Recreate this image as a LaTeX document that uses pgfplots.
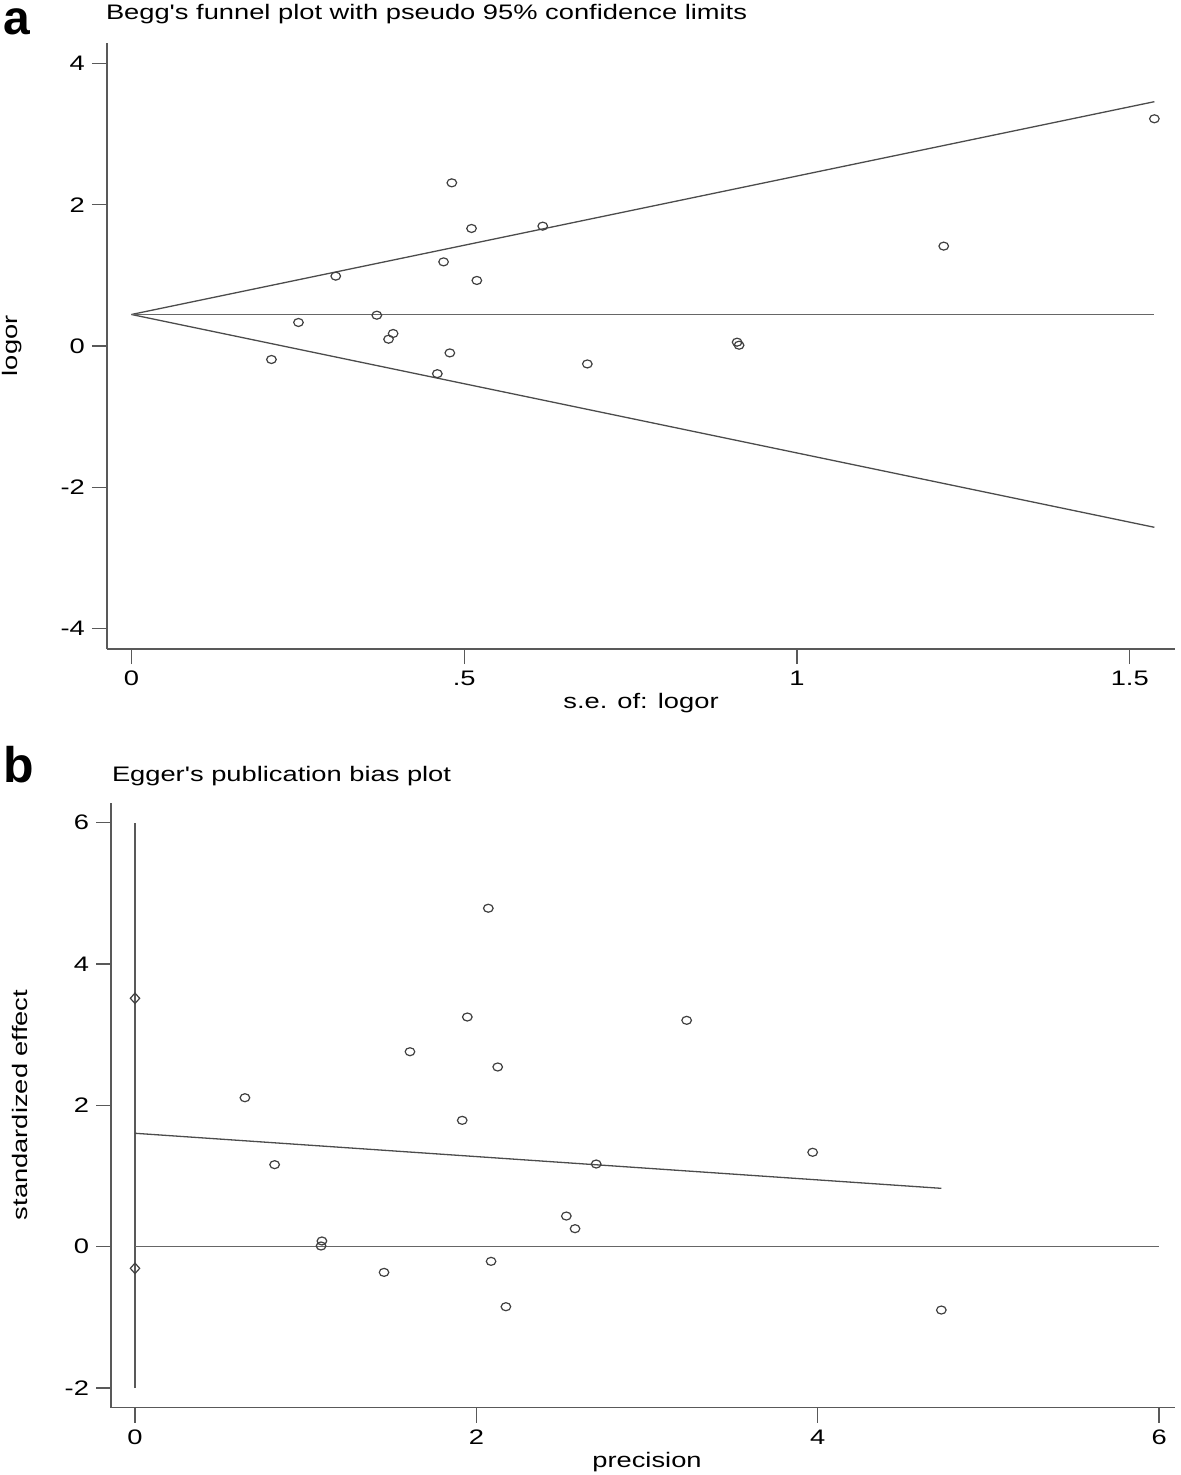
\documentclass[border=0pt]{standalone}
\usepackage{pgfplots}
\pgfplotsset{compat=1.18}
\usepackage{fontspec}
\setmainfont{Liberation Sans}
\pgfplotstableread{
x y
0.2104 -0.191
0.251 0.333
0.307 0.989
0.3687 0.436
0.3863 0.096
0.3932 0.177
0.4596 -0.392
0.469 1.191
0.4784 -0.098
0.4814 2.310
0.511 1.664
0.519 0.928
0.618 1.697
0.685 -0.254
0.910 0.054
0.913 0.011
1.2205 1.414
1.537 3.217
}\beggdata
\pgfplotstableread{
x y
1.611 2.759
0.644 2.108
0.818 1.161
1.095 0.081
1.090 0.010
1.459 -0.363
2.070 4.789
1.947 3.250
3.232 3.203
2.125 2.543
1.917 1.788
2.702 1.170
2.527 0.434
2.578 0.255
2.086 -0.207
2.173 -0.849
3.970 1.336
4.724 -0.896
}\eggerdata
\newcommand{\wide}[1]{\scalebox{1.3}[1]{#1}}
\begin{document}
\begin{tikzpicture}
\useasboundingbox (0pt,0pt) rectangle (590.5pt,-737.5pt);
\pgfplotsset{
 mystyle/.style={
  scale only axis,
  axis lines=left,
  axis line style={-, draw=black!65, line width=0.65pt},
  every tick/.style={draw=black!65, line width=0.65pt},
  tick align=outside,
  major tick length=7.5pt,
  tick label style={font=\fontsize{10.5}{12}\selectfont, text=black},
  clip=false,
 }
}
\begin{axis}[mystyle, at={(53.5pt,-324.5pt)}, anchor=south west,
  width=534pt, height=303pt,
  xmin=-0.0367, xmax=1.568, ymin=-4.29, ymax=4.29,
  xtick={0,0.5,1,1.5}, xticklabels={\wide{0},\wide{.5},\wide{1},\wide{1.5}},
  ytick={-4,-2,0,2,4}, yticklabels={\wide{-4},\wide{-2},\wide{0},\wide{2},\wide{4}}]
\addplot[draw=black!70, line width=0.65pt] coordinates {(0,0.446) (1.537,3.459)};
\addplot[draw=black!70, line width=0.65pt] coordinates {(0,0.446) (1.537,-2.567)};
\addplot[draw=black!60, line width=0.75pt] coordinates {(0,0.446) (1.537,0.446)};
\addplot[only marks, mark=o, mark size=2.0pt, draw=black!75, mark options={solid, xscale=1.2, line width=0.6pt}] table[x=x,y=y] {\beggdata};
\end{axis}
\begin{axis}[mystyle, at={(55.5pt,-703.85pt)}, anchor=south west,
  width=532pt, height=302.35pt,
  xmin=-0.1406, xmax=6.093, ymin=-2.278, ymax=6.278,
  xtick={0,2,4,6}, xticklabels={\wide{0},\wide{2},\wide{4},\wide{6}},
  ytick={-2,0,2,4,6}, yticklabels={\wide{-2},\wide{0},\wide{2},\wide{4},\wide{6}}]
\addplot[draw=black!65, line width=0.65pt] coordinates {(0,-2) (0,6)};
\addplot[draw=black!60, line width=0.75pt] coordinates {(0,0) (6,0)};
\addplot[draw=black!70, line width=0.65pt] coordinates {(0,1.605) (4.724,0.826)};
\addplot[only marks, mark=diamond, mark size=2.6pt, draw=black!75, fill=white, mark options={solid, xscale=1.2, line width=0.6pt}] coordinates {(0,3.515) (0,-0.306)};
\addplot[only marks, mark=o, mark size=2.0pt, draw=black!75, mark options={solid, xscale=1.2, line width=0.6pt}] table[x=x,y=y] {\eggerdata};
\end{axis}
\node[anchor=base west, inner sep=0pt, font=\fontsize{24}{24}\selectfont\bfseries] at (1.5pt,-17.5pt) {a};
\node[anchor=base west, inner sep=0pt, font=\fontsize{25}{25}\selectfont\bfseries] at (1.5pt,-391pt) {b};
\node[anchor=base west, inner sep=0pt, font=\fontsize{10.5}{12}\selectfont] at (52.8pt,-10pt) {\wide{Begg\textquotesingle s funnel plot with pseudo 95\% confidence limits}};
\node[anchor=base west, inner sep=0pt, font=\fontsize{10.5}{12}\selectfont] at (55.8pt,-390.8pt) {\wide{Egger\textquotesingle s publication bias plot}};
\node[anchor=base, inner sep=0pt, font=\fontsize{10.5}{12}\selectfont] at (320.5pt,-354pt) {\wide{s.e. of: logor}};
\node[anchor=base, inner sep=0pt, font=\fontsize{10.5}{12}\selectfont] at (323.5pt,-733.5pt) {\wide{precision}};
\node[anchor=base, inner sep=0pt, rotate=90, font=\fontsize{10.5}{12}\selectfont] at (9pt,-172.9pt) {\wide{logor}};
\node[anchor=base, inner sep=0pt, rotate=90, font=\fontsize{10.5}{12}\selectfont] at (13.5pt,-552.5pt) {\wide{standardized effect}};
\end{tikzpicture}
\end{document}
